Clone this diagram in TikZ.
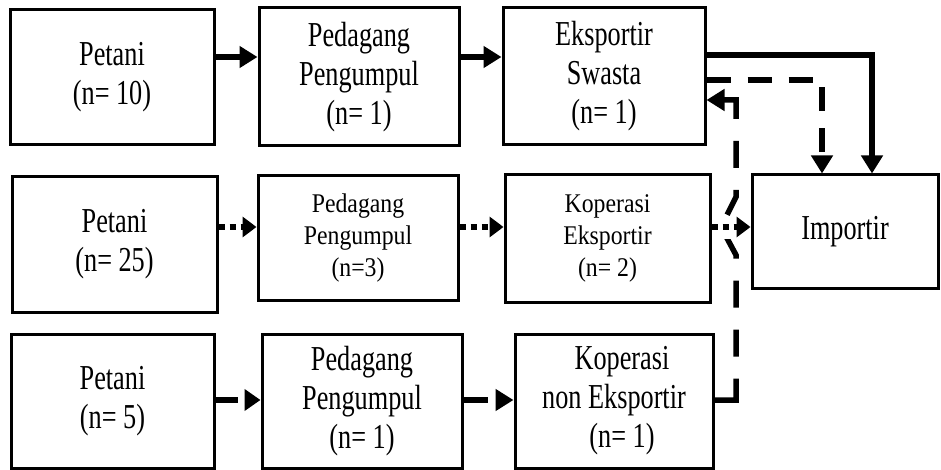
\documentclass[tikz,border=0pt]{standalone}
\usepackage{fontspec}
\setmainfont{Liberation Serif}
\newfontfamily\bigf[FakeStretch=0.75]{Liberation Serif}
\newfontfamily\midf[FakeStretch=0.88]{Liberation Serif}
\usetikzlibrary{arrows.meta}
\begin{document}
\begin{tikzpicture}[x=1pt,y=-1pt,
  box/.style={draw, line width=3pt, inner sep=0pt, align=center},
  bigtext/.style={font=\bigf\fontsize{35}{39}\selectfont},
  midtext/.style={font=\midf\fontsize{27}{32}\selectfont},
  arr/.style={line width=5.5pt, -{Triangle[length=18pt,width=21pt]}},
  dasharr/.style={arr, dash pattern=on 24pt off 17pt},
  longdash/.style={arr, dash pattern=on 43pt off 22pt on 27pt off 22pt on 27pt off 22pt on 27pt off 22pt on 27pt off 22pt on 27pt off 22pt on 60pt},
  dotarr/.style={line width=6pt, dash pattern=on 6pt off 5pt, -{Triangle[length=14pt,width=20pt]}},
  shortdash/.style={line width=5.5pt, dash pattern=on 22pt off 20pt, -{Triangle[length=16pt,width=21pt]}},
  rowdash/.style={arr, dash pattern=on 24pt off 20pt}
]
\useasboundingbox (0,0) rectangle (941,470);
% boxes
\node[box,bigtext,minimum width=204pt,minimum height=135pt] (P1) at (112,77.5) {Petani\\(n= 10)};
\node[box,bigtext,minimum width=200pt,minimum height=138pt] (G1) at (359,77) {Pedagang\\Pengumpul\\(n= 1)};
\node[box,bigtext,minimum width=202pt,minimum height=137pt] (E1) at (604,76.5) {Eksportir\\Swasta\\(n= 1)};
\node[box,bigtext,minimum width=205pt,minimum height=135pt] (P2) at (114.5,244.5) {Petani\\(n= 25)};
\node[box,midtext,minimum width=200pt,minimum height=124pt] (G2) at (358,238) {Pedagang\\Pengumpul\\(n=3)};
\node[box,midtext,minimum width=205pt,minimum height=127pt] (K2) at (607.5,238.5) {Koperasi\\Eksportir\\(n= 2)};
\node[box,bigtext,minimum width=186pt,minimum height=113pt] (I) at (845,231.5) {Importir};
\node[box,bigtext,minimum width=203pt,minimum height=134pt] (P3) at (112.5,401) {Petani\\(n= 5)};
\node[box,bigtext,minimum width=200pt,minimum height=134pt] (G3) at (362,401) {Pedagang\\Pengumpul\\(n= 1)};
\node[box,bigtext,minimum width=198pt,minimum height=134pt] (K3) at (614,401) {\hspace*{16pt}Koperasi\\non Eksportir\\\hspace*{16pt}(n= 1)};
% helper coordinates
\coordinate (y1) at (0,57);
\coordinate (y2) at (0,227);
\coordinate (y3) at (0,400);
\coordinate (ys) at (0,55);
\coordinate (yd) at (0,80);
\coordinate (yb) at (0,100);
\coordinate (xs) at (872,0);
\coordinate (xd) at (822,0);
\coordinate (xb) at (736,0);
\coordinate (j1) at (736,255);
\coordinate (j2) at (721,227);
\coordinate (j3) at (736,197);
% row 1
\draw[arr] (P1.east |- y1) -- (G1.west |- y1);
\draw[arr] (G1.east |- y1) -- (E1.west |- y1);
\draw[arr] (E1.east |- ys) -- (xs |- ys) -- (xs |- I.north);
\draw[dasharr] (E1.east |- yd) -- (xd |- yd) -- (xd |- I.north);
% row 3
\draw[shortdash] (P3.east |- y3) -- (G3.west |- y3);
\draw[rowdash] (G3.east |- y3) -- (K3.west |- y3);
\draw[longdash] (K3.east |- y3) -- (xb |- y3) -- (j1) -- (j2) -- (j3) -- (xb |- yb) -- (E1.east |- yb);
% gap where the dotted line crosses
\fill[white] (714,216) rectangle (746,239);
% row 2
\draw[dotarr] (P2.east |- y2) -- (G2.west |- y2);
\draw[dotarr] (G2.east |- y2) -- (K2.west |- y2);
\draw[dotarr] (K2.east |- y2) -- (I.west |- y2);
\end{tikzpicture}
\end{document}
